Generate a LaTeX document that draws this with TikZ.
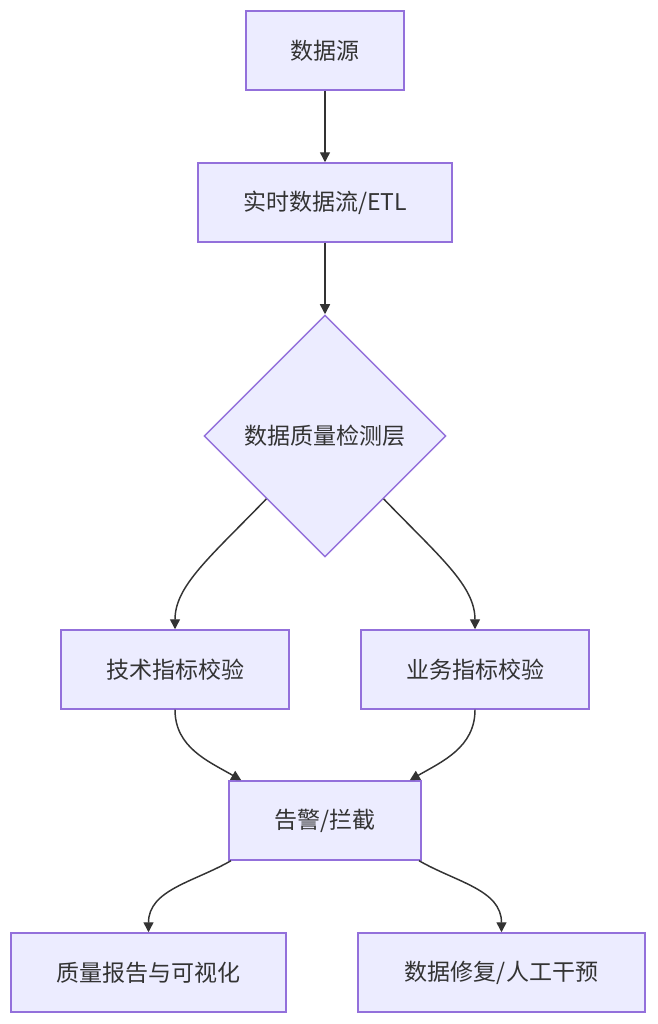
\documentclass[tikz,border=0pt]{standalone}
\usepackage{fontspec}
\setmainfont{Noto Sans CJK SC}
\usepackage{tikz}
\usetikzlibrary{arrows.meta,shapes.geometric}
\definecolor{boxfill}{HTML}{ECECFF}
\definecolor{boxline}{HTML}{9370DB}
\definecolor{ink}{HTML}{333333}
\begin{document}
\begin{tikzpicture}[x=0.75pt,y=0.75pt,
    box/.style={draw=boxline, fill=boxfill, line width=1.1pt, minimum height=59.25pt, inner sep=0pt, text=ink, font=\fontsize{17.25pt}{20pt}\selectfont},
    decision/.style={box, shape=diamond, aspect=1, minimum width=181.5pt, minimum height=181.5pt},
    flow/.style={draw=ink, line width=1.1pt, -{Triangle[length=7.5pt,width=7.5pt]}}]
        \useasboundingbox (0,0) rectangle (657,1024);
        \node[box, minimum width=118.5pt] (src) at (325,973.5) {数据源};
        \node[box, minimum width=190.5pt] (etl) at (325,821.5) {实时数据流/ETL};
        \node[decision] (dq) at (325,588) {数据质量检测层};
        \node[box, minimum width=171pt] (tech) at (175,354.5) {技术指标校验};
        \node[box, minimum width=171pt] (biz) at (475,354.5) {业务指标校验};
        \node[box, minimum width=144pt] (alert) at (325,203.5) {告警/拦截};
        \node[box, minimum width=206.25pt] (report) at (148.5,51.5) {质量报告与可视化};
        \node[box, minimum width=215.25pt] (fix) at (501.5,51.5) {数据修复/人工干预};
        \draw[flow] (src) -- (etl);
        \draw[flow] (etl) -- (dq);
        \draw[flow] (dq.-133) to[out=-134, in=90, out looseness=1.3, in looseness=0.7] (tech.north);
        \draw[flow] (dq.-47) to[out=-46, in=90, out looseness=1.3, in looseness=0.7] (biz.north);
        \draw[flow] (tech.south) to[out=-90, in=150] ([xshift=9.75pt]alert.north west);
        \draw[flow] (biz.south) to[out=-90, in=30] ([xshift=-9pt]alert.north east);
        \draw[flow] ([xshift=2pt]alert.south west) to[out=-150, in=90] (report.north);
        \draw[flow] ([xshift=-2pt]alert.south east) to[out=-30, in=90] (fix.north);
\end{tikzpicture}
\end{document}
